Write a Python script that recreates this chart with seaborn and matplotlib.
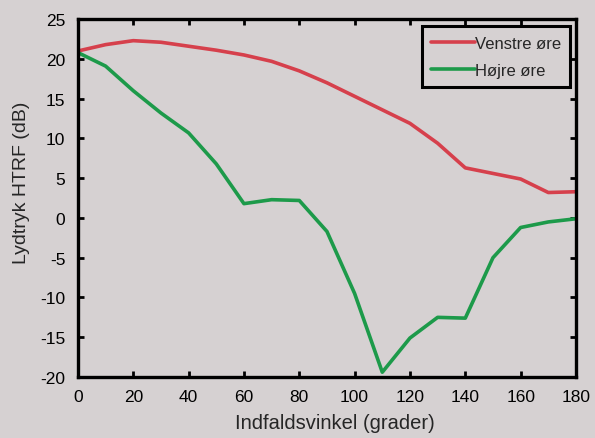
import numpy as np
import pandas as pd
import seaborn as sns
import matplotlib.pyplot as plt

# angles in degrees, values in dB
angles = [0, 10, 20, 30, 40, 50, 60, 70, 80, 90, 100, 110, 120, 130, 140, 150, 160, 170, 180]
venstre = [21.0, 21.8, 22.3, 22.1, 21.6, 21.1, 20.5, 19.7, 18.5, 17.0, 15.3, 13.6, 11.9, 9.4, 6.3, 5.6, 4.9, 3.2, 3.3]
hojre = [20.8, 19.1, 16.0, 13.2, 10.7, 6.8, 1.8, 2.3, 2.2, -1.7, -9.5, -19.4, -15.1, -12.5, -12.6, -5.0, -1.2, -0.5, -0.1]
series_names = ['Venstre øre', 'Højre øre']

df = pd.DataFrame({
    'angle': angles * 2,
    'value': venstre + hojre,
    'ear': [series_names[0]] * len(angles) + [series_names[1]] * len(angles),
})

bg = '#d6d1d2'
sns.set_style('ticks')
plt.rcParams['font.family'] = ['Liberation Sans', 'DejaVu Sans']
plt.rcParams['axes.unicode_minus'] = False

fig = plt.figure(figsize=(5.95, 4.39), dpi=100, facecolor=bg)
ax = fig.add_axes([0.131, 0.139, 0.837, 0.815])
ax.set_facecolor(bg)

sns.lineplot(data=df, x='angle', y='value', hue='ear', hue_order=series_names,
             palette=['#d6404c', '#1d9a4a'], linewidth=2.6, ax=ax)

ax.set_xlim(0, 180)
ax.set_ylim(-20, 25)
ax.set_xticks(range(0, 181, 20))
ax.set_yticks(range(-20, 26, 5))
ax.tick_params(direction='in', top=True, right=True, length=4.5, width=2,
               labelsize=12.5, colors='black', pad=9)
for s in ax.spines.values():
    s.set_linewidth(2.4)
    s.set_color('black')
    s.set_visible(True)

ax.set_xlabel('Indfaldsvinkel (grader)', fontsize=14.5, va='center')
ax.set_ylabel('Lydtryk HTRF (dB)', fontsize=14, va='center')
ax.xaxis.set_label_coords(0.516, -0.128)
ax.yaxis.set_label_coords(-0.114, 0.545)

leg = ax.legend(loc='upper right', fontsize=12, frameon=True, fancybox=False,
                handlelength=2.6, handletextpad=0.0, borderpad=0.55,
                labelspacing=0.75, borderaxespad=0, bbox_to_anchor=(0.988, 0.98))
leg.get_frame().set_edgecolor('black')
leg.get_frame().set_linewidth(2.2)
leg.get_frame().set_facecolor(bg)
leg.get_frame().set_alpha(1)

fig.savefig('out.png', dpi=100, facecolor=bg)
